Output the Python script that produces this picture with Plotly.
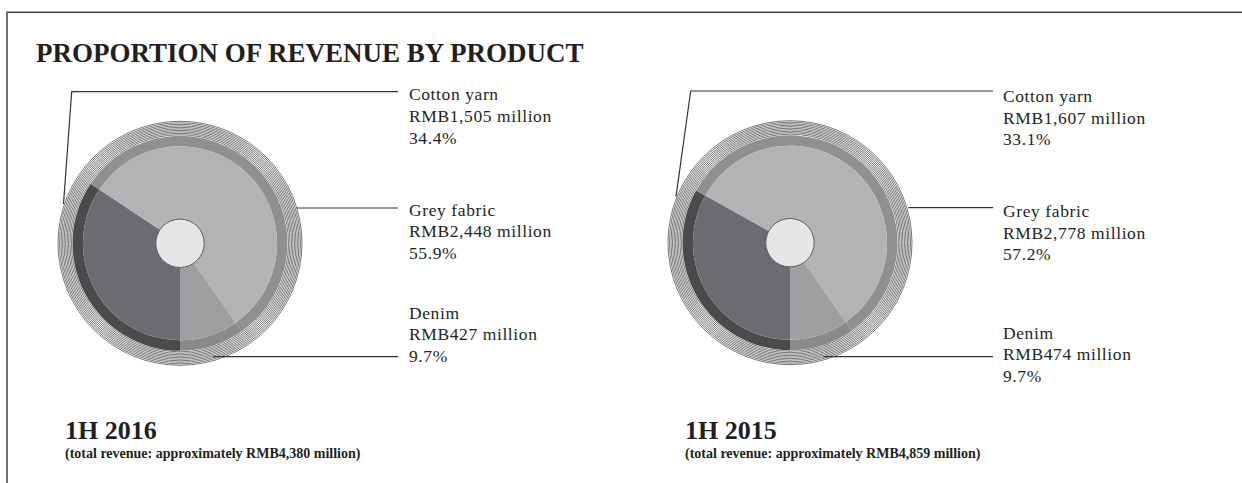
import plotly.graph_objects as go

# ---------------- data ----------------
products = ["Cotton yarn", "Grey fabric", "Denim"]
periods = ["1H 2016", "1H 2015"]
total_revenue = [4380, 4859]
revenue_2016 = [1505, 2448, 427]      # RMB million
revenue_2015 = [1607, 2778, 474]      # RMB million
pct_2016 = ["34.4%", "55.9%", "9.7%"]
pct_2015 = ["33.1%", "57.2%", "9.7%"]

# ---------------- style / layout ----------------
W, H = 1242, 483
SERIF = "Liberation Serif, Times New Roman, serif"
inner_colors = ["#6b6c6f", "#b2b3b5", "#9e9fa1"]
outer_colors = ["#4a4b4d", "#8f9092", "#898a8c"]
TXT = "#231f20"


def fx(x):
    return x / W


def fy(y):
    return 1 - y / H


R_OUT, R_IN, R_HOLE = 107.5, 97.0, 24.2
panels = [
    dict(cx=180.0, cy=243.3, values=revenue_2016, pct=pct_2016,
         text_x=407,
         label_y={"Cotton yarn": 94.3, "Grey fabric": 209.5, "Denim": 312.5},
         leaders={"Cotton yarn": [(63.5, 204), (71.7, 91.7), (398, 91.7)],
                  "Grey fabric": [(296.7, 208.0), (398, 208.0)],
                  "Denim": [(213.3, 356.7), (398, 356.7)]},
         title_x=63),
    dict(cx=790.0, cy=242.7, values=revenue_2015, pct=pct_2015,
         text_x=1001,
         label_y={"Cotton yarn": 95.8, "Grey fabric": 210.8, "Denim": 332.5},
         leaders={"Cotton yarn": [(676.0, 196.7), (690.7, 91.0), (993, 91.0)],
                  "Grey fabric": [(908.3, 207.7), (993, 207.7)],
                  "Denim": [(823.3, 356.7), (993, 356.7)]},
         title_x=683),
]

fig = go.Figure()
shapes = []
annotations = []

for i, p in enumerate(panels):
    cx, cy = p["cx"], p["cy"]
    # outer dark band
    fig.add_trace(go.Pie(
        labels=products, values=p["values"], sort=False,
        direction="clockwise", rotation=180,
        hole=R_IN / R_OUT,
        marker=dict(colors=outer_colors, line=dict(width=0)),
        textinfo="none", hoverinfo="label+value", showlegend=False,
        domain=dict(x=[fx(cx - R_OUT), fx(cx + R_OUT)],
                    y=[fy(cy + R_OUT), fy(cy - R_OUT)]),
    ))
    # inner main pie
    fig.add_trace(go.Pie(
        labels=products, values=p["values"], sort=False,
        direction="clockwise", rotation=180,
        hole=R_HOLE / R_IN,
        marker=dict(colors=inner_colors, line=dict(width=0)),
        textinfo="none", hoverinfo="label+value", showlegend=False,
        domain=dict(x=[fx(cx - R_IN), fx(cx + R_IN)],
                    y=[fy(cy + R_IN), fy(cy - R_IN)]),
    ))
    # center disc
    shapes.append(dict(type="circle", xref="paper", yref="paper",
                       x0=fx(cx - R_HOLE), x1=fx(cx + R_HOLE),
                       y0=fy(cy + R_HOLE), y1=fy(cy - R_HOLE),
                       fillcolor="#e5e6e7", line=dict(color="#5a5b5d", width=1)))
    # concentric decorative rings
    r = R_OUT + 1.0
    while r <= 122.6:
        shapes.append(dict(type="circle", xref="paper", yref="paper", layer="below",
                           x0=fx(cx - r), x1=fx(cx + r),
                           y0=fy(cy + r), y1=fy(cy - r),
                           line=dict(color="#3c3c3c", width=0.7)))
        r += 1.5
    # leader lines
    for name, pts in p["leaders"].items():
        path = "M " + " L ".join(f"{fx(x)},{fy(y)}" for x, y in pts)
        shapes.append(dict(type="path", xref="paper", yref="paper", path=path,
                           line=dict(color="#333333", width=1.2)))
    # labels
    for k, name in enumerate(products):
        lines = [name, f"RMB{p['values'][k]:,} million", p["pct"][k]]
        y0 = p["label_y"][name]
        for j, t in enumerate(lines):
            annotations.append(dict(
                xref="paper", yref="paper", x=fx(p["text_x"]), y=fy(y0 + 21.8 * j),
                xanchor="left", yanchor="middle", align="left", showarrow=False,
                text=f'<span style="letter-spacing:0.6px">{t}</span>',
                font=dict(family=SERIF, size=17.5, color=TXT)))
    # period title + subtitle
    annotations.append(dict(
        xref="paper", yref="paper", x=fx(p["title_x"]), y=fy(430),
        xanchor="left", yanchor="middle", align="left", showarrow=False,
        text=f"<b>{periods[i]}</b>",
        font=dict(family=SERIF, size=26, color=TXT)))
    annotations.append(dict(
        xref="paper", yref="paper", x=fx(p["title_x"]), y=fy(454),
        xanchor="left", yanchor="middle", align="left", showarrow=False,
        text=f"<b>(total revenue: approximately RMB{total_revenue[i]:,} million)</b>",
        font=dict(family=SERIF, size=14, color=TXT)))

# main title
annotations.append(dict(
    xref="paper", yref="paper", x=fx(34), y=fy(53),
    xanchor="left", yanchor="middle", align="left", showarrow=False,
    text="<b>PROPORTION OF REVENUE BY PRODUCT</b>",
    font=dict(family=SERIF, size=27, color=TXT)))

# frame (top and left edges)
shapes.append(dict(type="path", xref="paper", yref="paper",
                   path=f"M {fx(7)},{fy(H + 2)} L {fx(7)},{fy(12.3)} L {fx(W + 2)},{fy(12.3)}",
                   line=dict(color="#444444", width=1.5)))

fig.update_layout(
    width=W, height=H,
    margin=dict(l=0, r=0, t=0, b=0),
    paper_bgcolor="white", plot_bgcolor="white",
    shapes=shapes, annotations=annotations,
    showlegend=False,
)

fig.write_html("out.html",
               config={"displayModeBar": False},
               post_script="document.body.style.margin='0';document.body.style.padding='0';document.body.style.overflow='hidden';")
